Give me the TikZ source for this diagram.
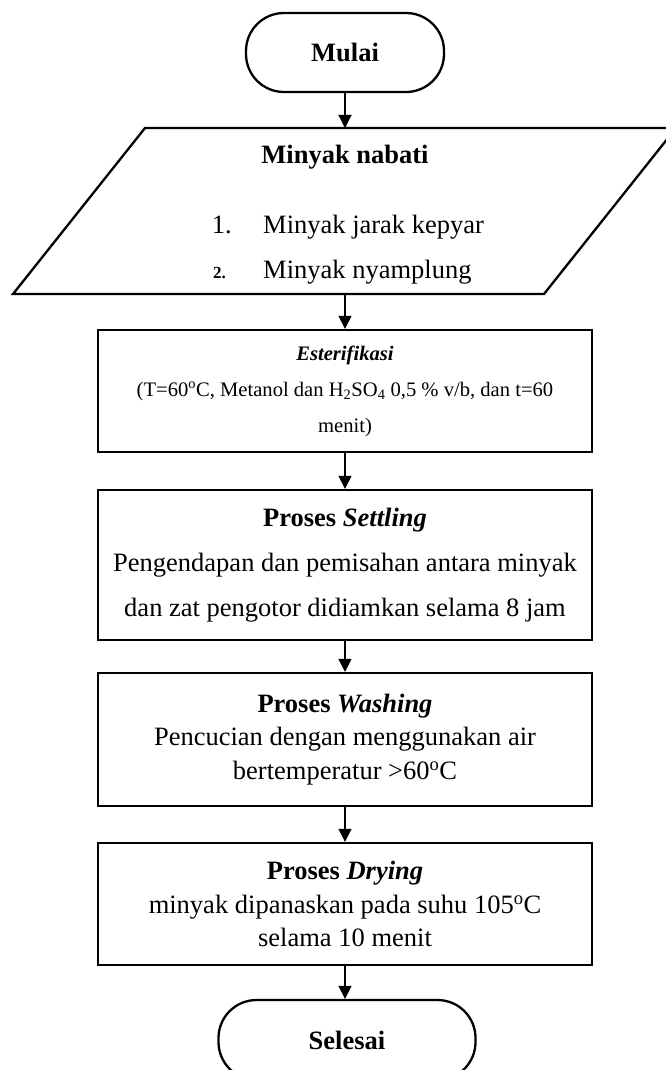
\documentclass[tikz,border=0pt]{standalone}
\usepackage{fontspec}
\setmainfont{Liberation Serif}
\usetikzlibrary{arrows.meta}

\begin{document}
\begin{tikzpicture}[x=1pt,y=-1pt,
  frame/.style={draw, line width=2.3pt},
  termbox/.style={frame, rounded corners=38pt, minimum height=79pt,
    inner sep=0pt, font=\fontsize{26.5}{30}\selectfont\bfseries},
  procbox/.style={frame, minimum width=494pt, inner sep=0pt, align=center},
  bigtext/.style={font=\fontsize{26.5}{30}\selectfont},
  flow/.style={line width=1.1pt, -{Triangle[length=13pt,width=13pt]}},
]
\useasboundingbox (0,0) rectangle (666,1070);
\clip (0,0) rectangle (666,1070);

% start / end terminals
\node[termbox, minimum width=198pt] (start) at (345,52.5) {Mulai};
\node[termbox, minimum width=257pt, minimum height=80pt] (stop) at (347,1040) {Selesai};

% input parallelogram
\draw[frame, line join=miter] (145,128) -- (676,128) -- (544,294) -- (13,294) -- cycle;
\coordinate (inTop) at (345,128);
\coordinate (inBot) at (345,294);
\node[bigtext, font=\fontsize{26.5}{30}\selectfont\bfseries] (inTitle) at (345,157) {Minyak nabati};
\node[bigtext, anchor=base east, inner sep=0pt] (num1) at (232,233) {1.};
\node[bigtext, anchor=base west, inner sep=0pt] (item1) at (263,233) {Minyak jarak kepyar};
\node[font=\fontsize{17}{20}\selectfont\bfseries, anchor=base east, inner sep=0pt] (num2) at (226,278) {2.};
\node[bigtext, anchor=base west, inner sep=0pt] (item2) at (263,278) {Minyak nyamplung};

% process steps
\node[procbox, minimum height=122pt, font=\fontsize{20.6}{36}\selectfont] (ester) at (345,391)
  {\textbf{\textit{Esterifikasi}}\\
   (T=60\textsuperscript{o}C, Metanol dan H\textsubscript{2}SO\textsubscript{4} 0,5 \% v/b, dan t=60\\
   menit)};

\node[procbox, minimum height=150pt, font=\fontsize{26.5}{45}\selectfont] (settle) at (345,565)
  {\textbf{Proses \textit{Settling}}\\
   Pengendapan dan pemisahan antara minyak\\
   dan zat pengotor didiamkan selama 8 jam};

\node[procbox, minimum height=133pt, font=\fontsize{26.5}{33.5}\selectfont] (wash) at (345,739.5)
  {\textbf{Proses \textit{Washing}}\\
   Pencucian dengan menggunakan air\\
   bertemperatur >60\textsuperscript{o}C};

\node[procbox, minimum height=122pt, font=\fontsize{26.5}{33.5}\selectfont] (dry) at (345,904)
  {\textbf{Proses \textit{Drying}}\\
   minyak dipanaskan pada suhu 105\textsuperscript{o}C\\
   selama 10 menit};

% connectors
\draw[flow] (start) -- (inTop);
\draw[flow] (inBot) -- (ester);
\draw[flow] (ester) -- (settle);
\draw[flow] (settle) -- (wash);
\draw[flow] (wash) -- (dry);
\draw[flow] (dry) -- (dry.south |- stop.north);
\end{tikzpicture}
\end{document}
